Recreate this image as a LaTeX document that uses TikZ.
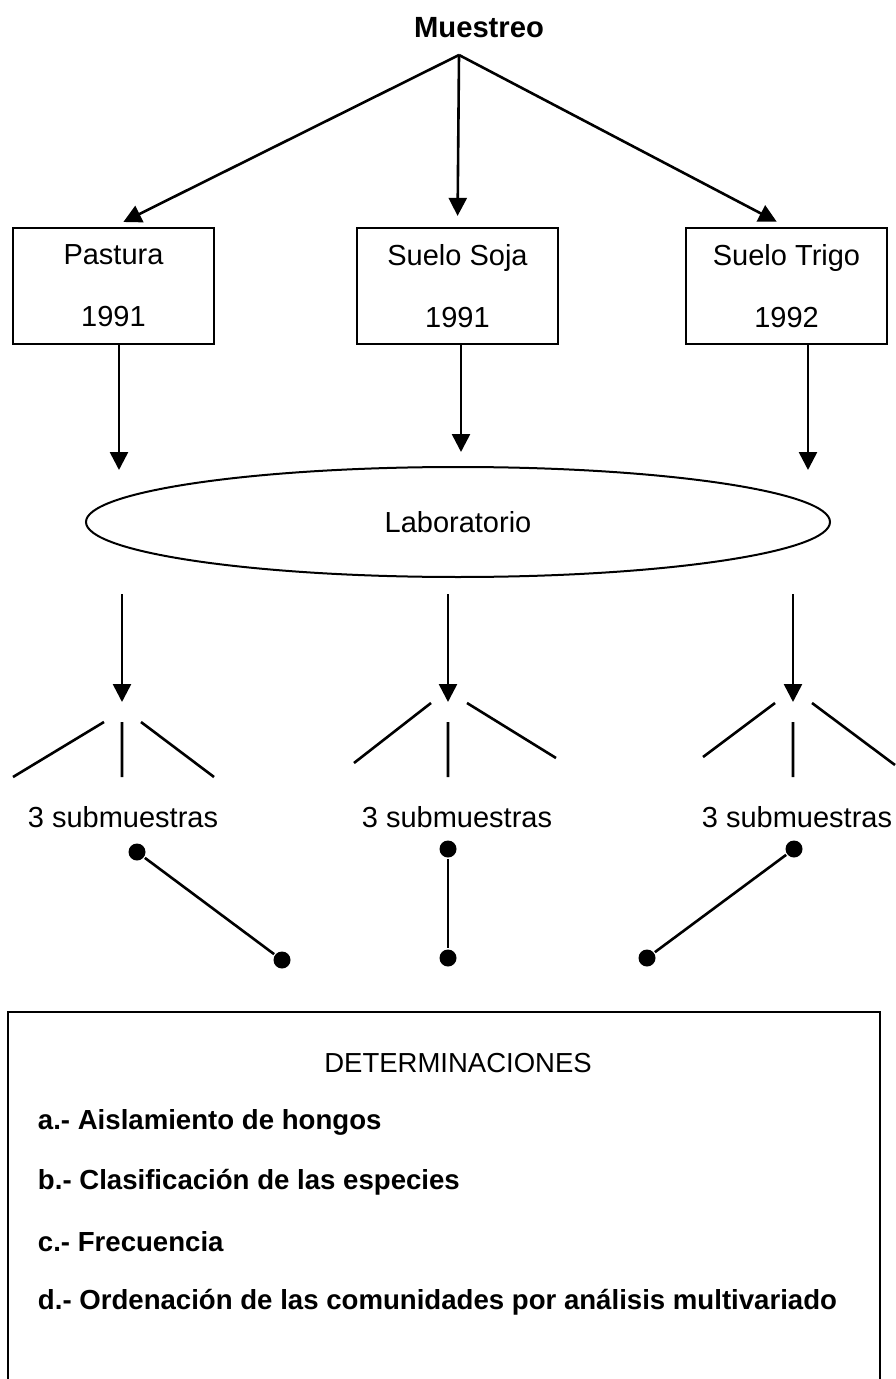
\documentclass[tikz,border=0pt]{standalone}
\usepackage{fontspec}
\setmainfont{Liberation Sans}
\usetikzlibrary{arrows.meta,shapes.geometric}
\begin{document}
\begin{tikzpicture}[x=0.5pt,y=-0.5pt,line width=1.3pt]
	\def \rowboxes{286}
	\def \rowforks{702}
	\tikzstyle{arr}=[-{Triangle[length=9pt,width=9pt]}]
	\tikzstyle{b-node}=[draw,line width=1.1pt,minimum width=100.5pt,minimum height=58pt,inner sep=0pt,align=center,font=\fontsize{14.5pt}{31pt}\selectfont]
	\tikzstyle{s-node}=[anchor=base,font=\fontsize{14.5pt}{17pt}\selectfont]
	\tikzstyle{i-node}=[anchor=west,font=\fontsize{13.8pt}{16pt}\selectfont\bfseries]
	\tikzstyle{dot}=[circle,fill,inner sep=0pt,minimum size=8.5pt]
	\useasboundingbox (0,0) rectangle (895,1379);

	% top
	\node[anchor=base,font=\fontsize{14.6pt}{17pt}\selectfont\bfseries] (mues) at (479,38) {Muestreo};
	\coordinate (apex) at (459,55);

	% sampling sites
	\node[b-node] 	(pas)	at (113.5,\rowboxes)	{Pastura\\1991};
	\node[b-node] 	(soj)	at (457.5,\rowboxes)	{Suelo Soja\\1991};
	\node[b-node] 	(tri)	at (786.5,\rowboxes)	{Suelo Trigo\\1992};

	% lab
	\node[draw,ellipse,line width=1pt,minimum width=372pt,minimum height=55pt,inner sep=0pt,font=\fontsize{14.5pt}{17pt}\selectfont] (lab) at (458,522) {Laboratorio};
	\coordinate (lab1) at (119,470);
	\coordinate (lab2) at (461,452);
	\coordinate (lab3) at (808,470);

	% forks
	\coordinate (fk1) at (122,\rowforks);
	\coordinate (fk2) at (448,\rowforks);
	\coordinate (fk3) at (793,\rowforks);

	\path[arr,shorten >=5.5pt]
		(apex)	edge	(pas.north)
		(apex)	edge	(soj.north)
		(apex)	edge	(tri.north);
	\draw[arr] (pas.south -| lab1) -- (lab1);
	\draw[arr] (soj.south -| lab2) -- (lab2);
	\draw[arr] (tri.south -| lab3) -- (lab3);
	\draw[arr,shorten <=8pt] (lab.south -| fk1) -- (fk1);
	\draw[arr,shorten <=8pt] (lab.south -| fk2) -- (fk2);
	\draw[arr,shorten <=8pt] (lab.south -| fk3) -- (fk3);

	\draw (104,722) -- (13,777) (122,722) -- (122,777) (141,722) -- (214,777);
	\draw (431,703) -- (354,763) (448,722) -- (448,777) (467,703) -- (556,758);
	\draw (775,703) -- (703,757) (793,722) -- (793,777) (812,703) -- (895,765);

	% subsamples
	\node[s-node] 	(sub1)	at (123,827)	{3 submuestras};
	\node[s-node] 	(sub2)	at (457,827)	{3 submuestras};
	\node[s-node] 	(sub3)	at (797,827)	{3 submuestras};

	\node[dot] (d1a) at (137,852) {};
	\node[dot] (d1b) at (282,960) {};
	\node[dot] (d2a) at (448,849) {};
	\node[dot] (d2b) at (448,958) {};
	\node[dot] (d3a) at (794,849) {};
	\node[dot] (d3b) at (647,958) {};
	\path
		(d1a)	edge	(d1b)
		(d2a)	edge	(d2b)
		(d3a)	edge	(d3b);

	% determinaciones
	\draw (8,1379) -- (8,1012) -- (880,1012) -- (880,1379);
	\node[font=\fontsize{13.75pt}{16pt}\selectfont] (det) at (458,1063) {DETERMINACIONES};
	\node[i-node]	(ia)	at (30,1122)	{a.- Aislamiento de hongos};
	\node[i-node]	(ib)	at (30,1182)	{b.- Clasificación de las especies};
	\node[i-node]	(ic)	at (30,1242)	{c.- Frecuencia};
	\node[i-node]	(id)	at (30,1302)	{d.- Ordenación de las comunidades por análisis multivariado};
\end{tikzpicture}
\end{document}
